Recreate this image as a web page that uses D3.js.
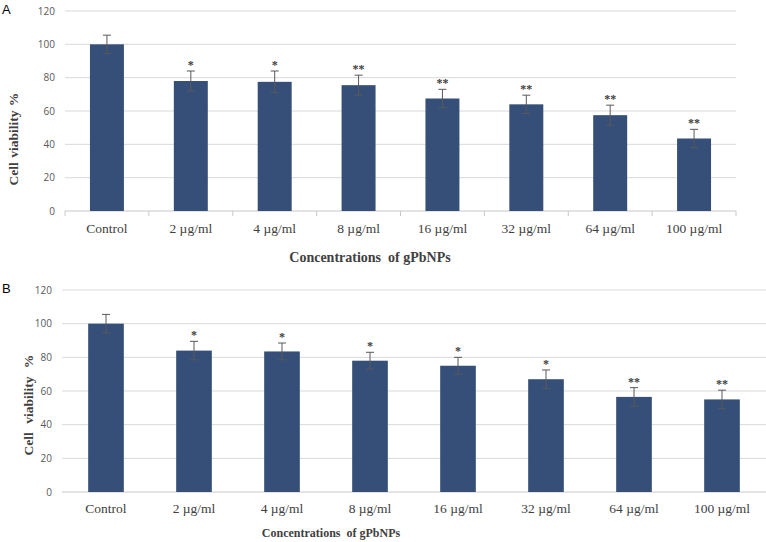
<!DOCTYPE html>
<html>
<head>
<meta charset="utf-8">
<script src="https://cdn.jsdelivr.net/npm/d3@7"></script>
<style>
  body { margin: 0; background: #fff; }
  svg { display: block; }
  .ytick { font-family: "Open Sans", sans-serif; font-size: 10px; fill: #595959; }
  .xtick { font-family: "Liberation Serif", serif; font-size: 13.5px; fill: #404040; }
  .title { font-family: "Liberation Serif", serif; font-weight: bold; fill: #404040; }
  .star { font-family: "Liberation Serif", serif; font-weight: bold; font-size: 12px; fill: #404040; }
  .panel { font-family: "Liberation Sans", sans-serif; font-size: 13px; fill: #000; }
</style>
</head>
<body>
<script>
// categories and values
var categories = ["Control", "2 \u00b5g/ml", "4 \u00b5g/ml", "8 \u00b5g/ml", "16 \u00b5g/ml", "32 \u00b5g/ml", "64 \u00b5g/ml", "100 \u00b5g/ml"];
var yTicks = [0, 20, 40, 60, 80, 100, 120];

var viabilityA = [100, 78, 77.5, 75.5, 67.5, 64, 57.5, 43.5];
var errorA     = [5.5, 6, 6.5, 6, 5.5, 5.5, 6, 5.5];
var starsA     = ["", "*", "*", "**", "**", "**", "**", "**"];

var viabilityB = [100, 84, 83.5, 78, 75, 67, 56.5, 55];
var errorB     = [5.5, 5.5, 5, 5, 5, 5.5, 5.5, 5.5];
var starsB     = ["", "*", "*", "*", "*", "*", "**", "**"];

var svg = d3.select("body").append("svg")
  .attr("width", 766)
  .attr("height", 542);

function drawPanel(p) {
  var g = svg.append("g");

  var x = d3.scaleBand()
    .domain(categories)
    .range([p.left, p.right])
    .paddingInner(0.595)
    .paddingOuter(0.2975);
  var y = d3.scaleLinear().domain([0, 120]).range([p.bottom, p.top]);

  // gridlines
  g.selectAll(".grid").data(yTicks.filter(function(d){ return d > 0; })).enter()
    .append("line")
    .attr("x1", p.left).attr("x2", p.right)
    .attr("y1", function(d){ return y(d); }).attr("y2", function(d){ return y(d); })
    .style("stroke", "#d9d9d9").style("stroke-width", 1);

  // baseline
  g.append("line")
    .attr("x1", p.left).attr("x2", p.right)
    .attr("y1", y(0)).attr("y2", y(0))
    .style("stroke", "#c8c8c8");

  if (p.catTicks) {
    var step = x.step();
    g.selectAll(".ctick").data(d3.range(categories.length + 1)).enter()
      .append("line")
      .attr("x1", function(i){ return p.left + i * step; })
      .attr("x2", function(i){ return p.left + i * step; })
      .attr("y1", y(0)).attr("y2", y(0) + 5)
      .style("stroke", "#c8c8c8");
  }

  // y tick labels
  g.selectAll(".ytick").data(yTicks).enter()
    .append("text")
    .attr("class", "ytick")
    .attr("x", p.left - 10)
    .attr("y", function(d){ return y(d); })
    .attr("dy", "0.35em")
    .attr("text-anchor", "end")
    .text(function(d){ return d; });

  // bars
  g.selectAll(".bar").data(p.values).enter()
    .append("rect")
    .attr("x", function(d, i){ return x(categories[i]); })
    .attr("width", x.bandwidth())
    .attr("y", function(d){ return y(d); })
    .attr("height", function(d){ return y(0) - y(d); })
    .style("fill", "#354f78");

  // error bars
  var cx = function(i){ return x(categories[i]) + x.bandwidth() / 2; };
  var eb = g.selectAll(".err").data(p.values).enter().append("g");
  eb.append("line")
    .attr("x1", function(d, i){ return cx(i); }).attr("x2", function(d, i){ return cx(i); })
    .attr("y1", function(d, i){ return y(d - p.errors[i]); })
    .attr("y2", function(d, i){ return y(d + p.errors[i]); })
    .style("stroke", "#595959");
  eb.append("line")
    .attr("x1", function(d, i){ return cx(i) - 4; }).attr("x2", function(d, i){ return cx(i) + 4; })
    .attr("y1", function(d, i){ return y(d + p.errors[i]); })
    .attr("y2", function(d, i){ return y(d + p.errors[i]); })
    .style("stroke", "#595959");
  eb.append("line")
    .attr("x1", function(d, i){ return cx(i) - 4; }).attr("x2", function(d, i){ return cx(i) + 4; })
    .attr("y1", function(d, i){ return y(d - p.errors[i]); })
    .attr("y2", function(d, i){ return y(d - p.errors[i]); })
    .style("stroke", "#595959");

  // significance marks
  eb.append("text")
    .attr("class", "star")
    .attr("x", function(d, i){ return cx(i); })
    .attr("y", function(d, i){ return y(d + p.errors[i]) - 2; })
    .attr("text-anchor", "middle")
    .text(function(d, i){ return p.stars[i]; });

  // category labels
  g.selectAll(".xtick").data(categories).enter()
    .append("text")
    .attr("class", "xtick")
    .attr("x", function(d){ return x(d) + x.bandwidth() / 2; })
    .attr("y", p.labelY)
    .attr("text-anchor", "middle")
    .text(function(d){ return d; });

  // axis titles
  g.append("text")
    .attr("class", "title")
    .attr("x", p.xTitleX).attr("y", p.xTitleY)
    .attr("text-anchor", "middle")
    .style("font-size", p.xTitleSize + "px")
    .text("Concentrations\u00a0 of gPbNPs");

  g.append("text")
    .attr("class", "title")
    .attr("transform", "translate(" + p.yTitleX + "," + p.yTitleY + ") rotate(-90)")
    .attr("text-anchor", "middle")
    .attr("dy", "0.35em")
    .style("font-size", "13.5px")
    .style("word-spacing", p.wordSpacing + "px")
    .text("Cell viability %");

  g.append("text")
    .attr("class", "panel")
    .attr("x", 2).attr("y", p.top + 3)
    .text(p.name);
}

drawPanel({
  name: "A", values: viabilityA, errors: errorA, stars: starsA,
  left: 65, right: 736, top: 11, bottom: 211, catTicks: true,
  labelY: 233, xTitleX: 370, xTitleY: 262, xTitleSize: 14,
  yTitleX: 13, yTitleY: 139, wordSpacing: 1
});

drawPanel({
  name: "B", values: viabilityB, errors: errorB, stars: starsB,
  left: 62, right: 766, top: 290, bottom: 492, catTicks: false,
  labelY: 513, xTitleX: 331, xTitleY: 537, xTitleSize: 12,
  yTitleX: 28, yTitleY: 405, wordSpacing: 5
});
</script>
</body>
</html>
